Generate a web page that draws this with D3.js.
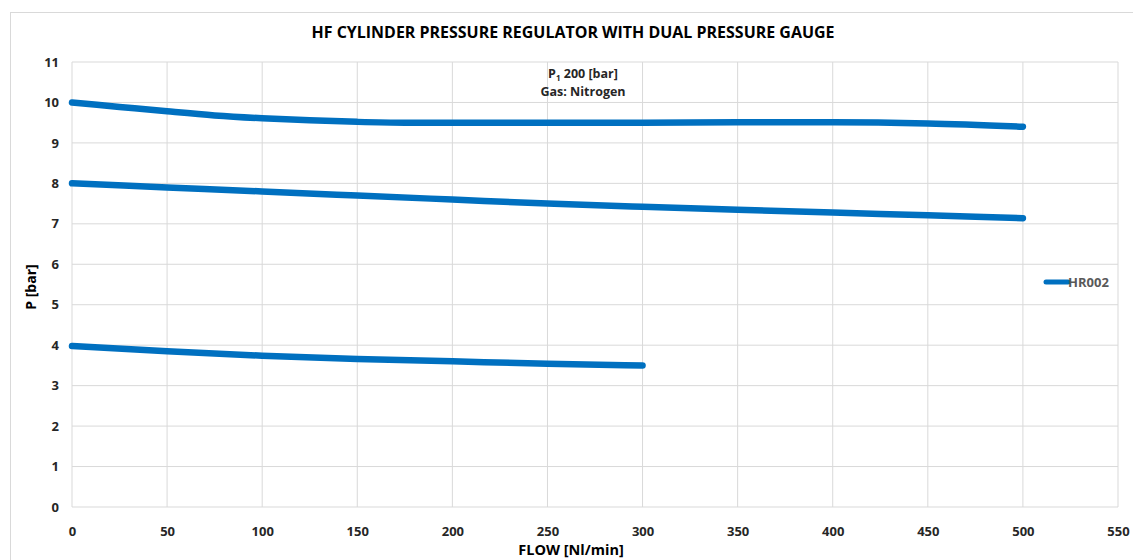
<!DOCTYPE html>
<html><head><meta charset="utf-8">
<script src="https://cdn.jsdelivr.net/npm/d3@7"></script>
<style>body{margin:0;background:#fff}svg{display:block}text{font-family:"Open Sans","Liberation Sans",sans-serif}</style>
</head><body>
<script>
const xTicks = [0,50,100,150,200,250,300,350,400,450,500,550];
const yTicks = [0,1,2,3,4,5,6,7,8,9,10,11];
const curveHigh = [[0,10],[25,9.89],[50,9.78],[75,9.68],[100,9.61],[125,9.56],[150,9.52],[175,9.5],[200,9.5],[250,9.5],[300,9.5],[350,9.51],[400,9.51],[450,9.48],[500,9.4]];
const curveMid = [[0,8.0],[50,7.9],[100,7.8],[150,7.7],[200,7.6],[250,7.5],[300,7.42],[350,7.35],[400,7.28],[450,7.21],[500,7.14]];
const curveLow = [[0,3.98],[50,3.85],[100,3.74],[150,3.66],[200,3.6],[250,3.54],[300,3.5]];
const seriesName = "HR002";
const title = "HF CYLINDER PRESSURE REGULATOR WITH DUAL PRESSURE GAUGE";

const W=1133,H=560;
const svg=d3.select("body").append("svg").attr("width",W).attr("height",H);
svg.append("rect").attr("x",10.5).attr("y",12.5).attr("width",1140).attr("height",600).attr("fill","#fff").attr("stroke","#d9d9d9");
const x=d3.scaleLinear().domain([0,550]).range([72,1118]);
const y=d3.scaleLinear().domain([0,11]).range([507,62]);
const g=svg.append("g");
g.selectAll("line.gx").data(xTicks).join("line").attr("x1",d=>x(d)).attr("x2",d=>x(d)).attr("y1",y(0)).attr("y2",y(11)).attr("stroke","#d9d9d9");
g.selectAll("line.gy").data(yTicks).join("line").attr("x1",x(0)).attr("x2",x(550)).attr("y1",d=>y(d)).attr("y2",d=>y(d)).attr("stroke","#d9d9d9");
const xa=svg.append("g").attr("transform",`translate(0,${y(0)+17})`).call(d3.axisBottom(x).tickValues(xTicks).tickSize(0).tickFormat(d3.format("d")));
xa.select(".domain").remove();
xa.selectAll("text").attr("font-size",13).attr("font-weight","bold").attr("fill","#262626");
const ya=svg.append("g").attr("transform",`translate(${x(0)-10},0)`).call(d3.axisLeft(y).tickValues(yTicks).tickSize(0).tickFormat(d3.format("d")));
ya.select(".domain").remove();
ya.selectAll("text").attr("font-size",13).attr("font-weight","bold").attr("fill","#262626");
const line=d3.line().x(d=>x(d[0])).y(d=>y(d[1])).curve(d3.curveMonotoneX);
[curveHigh,curveMid,curveLow].forEach(c=>{
  svg.append("path").attr("d",line(c)).attr("fill","none").attr("stroke","#0070c0").attr("stroke-width",6.5).attr("stroke-linecap","round");
});
svg.append("text").attr("x",573).attr("y",38).attr("text-anchor","middle").attr("font-size",15.5).attr("font-weight","bold").attr("fill","#000").attr("textLength",523).attr("lengthAdjust","spacingAndGlyphs").text(title);
const ann=svg.append("text").attr("x",583).attr("y",78).attr("text-anchor","middle").attr("font-size",12.5).attr("font-weight","bold").attr("fill","#262626");
ann.append("tspan").text("P");
ann.append("tspan").attr("font-size",8).attr("dy",3).text("1");
ann.append("tspan").attr("dy",-3).text(" 200 [bar]");
svg.append("text").attr("x",583).attr("y",96).attr("text-anchor","middle").attr("font-size",12.5).attr("font-weight","bold").attr("fill","#262626").text("Gas: Nitrogen");
svg.append("text").attr("transform","translate(36,287) rotate(-90)").attr("text-anchor","middle").attr("font-size",14).attr("font-weight","bold").attr("fill","#000").text("P [bar]");
svg.append("text").attr("x",571).attr("y",555).attr("text-anchor","middle").attr("font-size",14.5).attr("font-weight","bold").attr("fill","#000").text("FLOW [Nl/min]");
svg.append("line").attr("x1",1046).attr("x2",1068).attr("y1",282).attr("y2",282).attr("stroke","#0070c0").attr("stroke-width",5).attr("stroke-linecap","round");
svg.append("text").attr("x",1068).attr("y",287).attr("font-size",13).attr("font-weight","bold").attr("fill","#595959").text(seriesName);
</script>
</body></html>
